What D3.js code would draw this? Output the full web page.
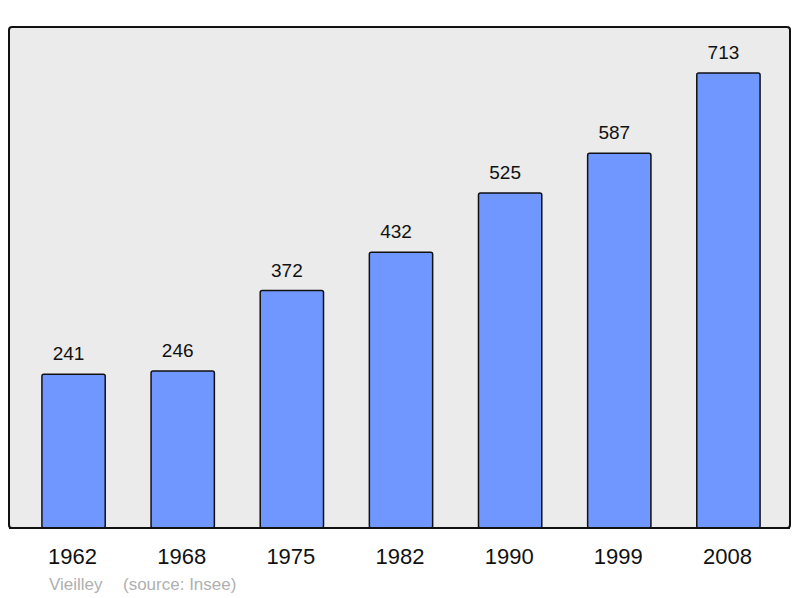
<!DOCTYPE html>
<html><head><meta charset="utf-8">
<script src="https://cdn.jsdelivr.net/npm/d3@7"></script>
<style>body{margin:0;background:#fff}svg{display:block}</style>
</head><body>
<svg id="c" width="800" height="598"></svg>
<script>
const years = ["1962","1968","1975","1982","1990","1999","2008"];
const population = [241,246,372,432,525,587,713];
const commune = "Vieilley";
const sourceText = "(source: Insee)";

const svg = d3.select("#c");
const panel = {x0: 9, x1: 790, y0: 27, y1: 528};
const font = "Liberation Sans, Arial, sans-serif";

const x = d3.scaleBand().domain(years).range([19, 783]).paddingInner(0.42).paddingOuter(0.21);
const y = d3.scaleLinear().domain([0, 785]).range([panel.y1, panel.y0]);

svg.append("rect").attr("x", panel.x0).attr("y", panel.y0)
  .attr("width", panel.x1 - panel.x0).attr("height", panel.y1 - panel.y0)
  .attr("rx", 3).attr("fill", "#ebebeb").attr("stroke", "#111").attr("stroke-width", 2);

const data = years.map((yr, i) => ({yr, v: population[i]}));

svg.append("g").selectAll("rect").data(data).join("rect")
  .attr("x", d => x(d.yr)).attr("width", x.bandwidth())
  .attr("y", d => y(d.v)).attr("height", d => y(0) - y(d.v))
  .attr("rx", 2)
  .attr("fill", "#7096ff").attr("stroke", "#111").attr("stroke-width", 1.5);

svg.append("line").attr("x1", panel.x0).attr("x2", panel.x1)
  .attr("y1", panel.y1).attr("y2", panel.y1).attr("stroke", "#111").attr("stroke-width", 2);

svg.append("g").selectAll("text").data(data).join("text")
  .attr("x", d => x(d.yr) + x.bandwidth() / 2 - 5).attr("y", d => y(d.v) - 14)
  .attr("text-anchor", "middle").attr("font-family", font).attr("font-size", 19)
  .attr("fill", "#111").text(d => d.v);

const xAxis = d3.axisBottom(x).tickSize(0).tickPadding(0);
const gx = svg.append("g").attr("transform", `translate(0,${panel.y1})`).call(xAxis);
gx.select(".domain").remove();
gx.selectAll("text").attr("font-family", font).attr("font-size", 22).attr("fill", "#111")
  .attr("dy", null).attr("y", 36).attr("dx", -1);

svg.append("text").attr("x", 49).attr("y", 590).attr("font-family", font).attr("font-size", 17)
  .attr("fill", "#b0b0b0").text(commune);
svg.append("text").attr("x", 123).attr("y", 590).attr("font-family", font).attr("font-size", 17)
  .attr("fill", "#b0b0b0").text(sourceText);
</script>
</body></html>
